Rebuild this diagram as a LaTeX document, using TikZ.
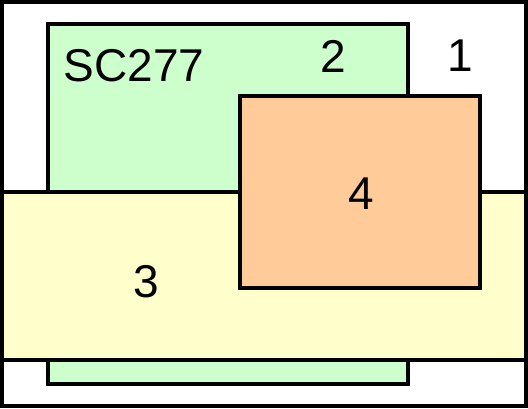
\documentclass[tikz,border=0pt]{standalone}
\usepackage{fontspec}
\setmainfont{Liberation Sans}
\usepackage{xcolor}
\definecolor{regiongreen}{HTML}{CCFFCC}
\definecolor{regionyellow}{HTML}{FFFFCC}
\definecolor{regionorange}{HTML}{FFCC99}

\begin{document}
\begin{tikzpicture}[x=1pt, y=-1pt, line width=4pt, every node/.style={font=\fontsize{46}{46}\selectfont, inner sep=0pt}]
    \useasboundingbox (0,0) rectangle (528,408);
    \draw[fill=white] (2,2) rectangle (526,406);
    \draw[fill=regiongreen] (48,24) rectangle (408,384);
    \draw[fill=regionyellow] (2,192) rectangle (526,360);
    \draw[fill=regionorange] (240,96) rectangle (480,288);
    \node (sc) at (134,66) {SC277};
    \node (r1) at (460,56) {1};
    \node (r2) at (333,56) {2};
    \node (r3) at (146,282) {3};
    \node (r4) at (361,194) {4};
\end{tikzpicture}
\end{document}
